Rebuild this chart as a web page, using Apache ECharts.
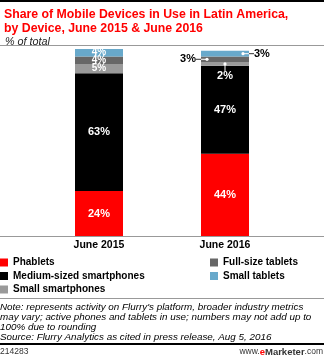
<!DOCTYPE html>
<html><head><meta charset="utf-8">
<script src="https://cdn.jsdelivr.net/npm/echarts@6/dist/echarts.min.js"></script>
<style>html,body{margin:0;padding:0;background:#fff}#c{width:324px;height:355px}</style>
</head><body><div id="c"></div>
<script>
const categories = ['June 2015', 'June 2016'];
const seriesNames = ['Phablets', 'Medium-sized smartphones', 'Small smartphones', 'Full-size tablets', 'Small tablets'];
const phablets = [24, 44];
const mediumSmartphones = [63, 47];
const smallSmartphones = [5, 2];
const fullSizeTablets = [4, 3];
const smallTablets = [4, 3];
const seriesData = [phablets, mediumSmartphones, smallSmartphones, fullSizeTablets, smallTablets];
const colors = ['#ff0000', '#000000', '#9a9a9a', '#676767', '#68a9cb'];
const FONT = '"Liberation Sans", Arial, sans-serif';

const chart = echarts.init(document.getElementById('c'), null, {renderer: 'canvas'});

function labelFor(sIdx, dIdx) {
  const big = sIdx < 2;
  if (dIdx === 1 && !big) return {show: false};
  return {show: true, position: 'inside', color: '#fff', fontWeight: 'bold',
          fontSize: big ? 11 : 10, fontFamily: FONT, formatter: '{c}%'};
}

const series = seriesNames.map((name, s) => ({
  name, type: 'bar', stack: 'total', barWidth: 48,
  itemStyle: {color: colors[s]},
  emphasis: {disabled: true},
  data: seriesData[s].map((v, d) => ({value: v, label: labelFor(s, d)}))
}));

const legendText = {fontWeight: 'bold', fontSize: 10, color: '#000', fontFamily: FONT, lineHeight: 11};
const option = {
  animation: false,
  textStyle: {fontFamily: FONT},
  title: [
    {text: 'Share of Mobile Devices in Use in Latin America,\nby Device, June 2015 & June 2016', left: -1, top: 3,
     textStyle: {color: '#ff0000', fontSize: 12.3, fontWeight: 'bold', lineHeight: 13.5, fontFamily: FONT}},
    {text: '% of total', left: 0, top: 31,
     textStyle: {color: '#222', fontSize: 10.8, fontStyle: 'italic', fontWeight: 'normal', fontFamily: FONT}}
  ],
  grid: {left: 36, right: 36, top: 49, bottom: 119},
  xAxis: {type: 'category', data: categories,
    axisLine: {show: false}, axisTick: {show: false},
    axisLabel: {color: '#000', fontWeight: 'bold', fontSize: 10.5, margin: 4, fontFamily: FONT}},
  yAxis: {type: 'value', min: 0, max: 100, show: false, splitLine: {show: false}},
  legend: [
    {data: seriesNames.slice(0, 3), orient: 'vertical', left: 0, top: 257, itemWidth: 8, itemHeight: 8,
     itemGap: 2.5, icon: 'rect', selectedMode: false, padding: [0, 0, 0, 0], textStyle: legendText},
    {data: seriesNames.slice(3), orient: 'vertical', left: 210, top: 257, itemWidth: 8, itemHeight: 8,
     itemGap: 2.5, icon: 'rect', selectedMode: false, padding: [0, 0, 0, 0], textStyle: legendText}
  ],
  series
};
chart.setOption(option);

function px(c, v) { return chart.convertToPixel({xAxisIndex: 0, yAxisIndex: 0}, [c, v]); }
const base = px(0, 0);
const c2 = px(1, 0)[0];
const half = 24;
const cum = (d, s) => seriesData.slice(0, s).reduce((a, arr) => a + arr[d], 0);
const midTab = px(1, cum(1, 4) + smallTablets[1] / 2);
const midFull = px(1, cum(1, 3) + fullSizeTablets[1] / 2);
const midSmall = px(1, cum(1, 2) + smallSmartphones[1] / 2);

const g = [];
g.push({type: 'rect', shape: {x: 0, y: 0, width: 324, height: 2}, style: {fill: '#000'}});
g.push({type: 'rect', shape: {x: 0, y: 45, width: 324, height: 1}, style: {fill: '#999'}});
g.push({type: 'rect', shape: {x: 0, y: Math.round(base[1]), width: 324, height: 1}, style: {fill: '#999'}});
g.push({type: 'rect', shape: {x: 0, y: 298, width: 324, height: 1}, style: {fill: '#999'}});
g.push({type: 'rect', shape: {x: 0, y: 343, width: 324, height: 2}, style: {fill: '#000'}});
const dot = (x, y) => ({type: 'circle', shape: {cx: x, cy: y, r: 1.6}, style: {fill: '#fff'}, z: 10});
const seg = (x1, y1, x2, y2, col) => ({type: 'line', shape: {x1, y1, x2, y2}, style: {stroke: col, lineWidth: 1}, z: 10});
g.push(seg(c2 + 18, midTab[1], c2 + half, midTab[1], '#fff'));
g.push(seg(c2 + half, midTab[1], c2 + half + 5, midTab[1], '#333'));
g.push(dot(c2 + 18, midTab[1]));
g.push({type: 'text', x: c2 + half + 5, y: midTab[1], z: 10,
  style: {text: '3%', fill: '#000', font: 'bold 11px ' + FONT, verticalAlign: 'middle', align: 'left'}});
g.push(seg(c2 - 18, midFull[1], c2 - half, midFull[1], '#fff'));
g.push(seg(c2 - half, midFull[1], c2 - half - 5, midFull[1], '#333'));
g.push(dot(c2 - 18, midFull[1]));
g.push({type: 'text', x: c2 - half - 5, y: midFull[1], z: 10,
  style: {text: '3%', fill: '#000', font: 'bold 11px ' + FONT, verticalAlign: 'middle', align: 'right'}});
g.push(seg(c2, midSmall[1], c2, midSmall[1] + 7, '#fff'));
g.push(dot(c2, midSmall[1]));
g.push({type: 'text', x: c2, y: midSmall[1] + 7, z: 10,
  style: {text: '2%', fill: '#fff', font: 'bold 11px ' + FONT, verticalAlign: 'top', align: 'center'}});
g.push({type: 'text', x: 0, y: 302, style: {
  text: "Note: represents activity on Flurry's platform, broader industry metrics\nmay vary; active phones and tablets in use; numbers may not add up to\n100% due to rounding\nSource: Flurry Analytics as cited in press release, Aug 5, 2016",
  fill: '#000', font: 'italic 9.85px ' + FONT, lineHeight: 10, verticalAlign: 'top'}});
g.push({type: 'text', x: 0, y: 347, style: {text: '214283', fill: '#333', font: '8.5px ' + FONT, verticalAlign: 'top'}});
g.push({type: 'text', x: 323, y: 347, style: {
  text: '{a|www.}{b|e}{c|Marketer}{a|.com}', align: 'right', verticalAlign: 'top',
  rich: {a: {fill: '#333', font: '8.5px ' + FONT}, b: {fill: '#ff0000', font: 'bold 9.5px ' + FONT},
         c: {fill: '#333', font: 'bold 9.5px ' + FONT}}}});
chart.setOption({graphic: g});
</script></body></html>
